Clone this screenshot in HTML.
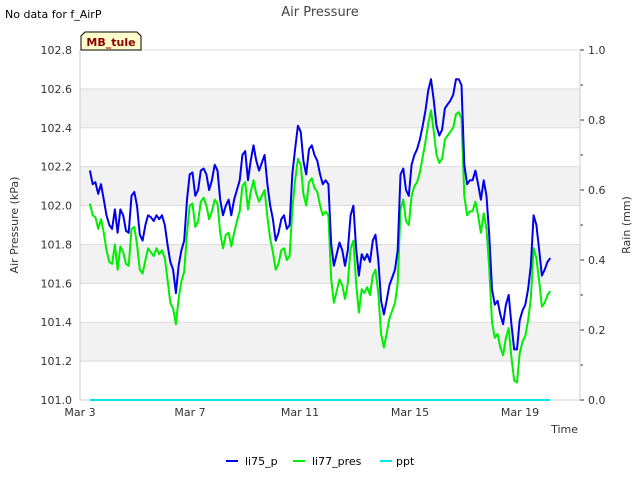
<!DOCTYPE html>
<html><head><meta charset="utf-8"><style>
body{margin:0;background:#fff;}
svg text{font-family:"DejaVu Sans","Liberation Sans",sans-serif;}
</style></head><body>
<svg id="chart" width="640" height="480" xmlns="http://www.w3.org/2000/svg">
<text x="5" y="18" font-size="11" fill="#000">No data for f_AirP</text>
<text x="320" y="16" font-size="13" fill="#444" text-anchor="middle">Air Pressure</text>
<g id="grid"></g>
<g id="axes"></g>
<g id="series"></g>
<g>
<path d="M81,50 L81,36 L85,32 L137,32 L141,36 L141,50 Z" fill="#ffffcc" stroke="#000" stroke-width="1"/>
<text x="111" y="46" font-size="11" font-weight="bold" fill="#8b0000" text-anchor="middle">MB_tule</text>
</g>
<text transform="translate(18,225) rotate(-90)" font-size="11" fill="#333" text-anchor="middle">Air Pressure (kPa)</text>
<text transform="translate(630,225) rotate(-90)" font-size="11" fill="#333" text-anchor="middle">Rain (mm)</text>
<text x="578" y="433" font-size="11" fill="#333" text-anchor="end">Time</text>
<g>
<g><line x1="226" y1="461" x2="238" y2="461" stroke="#0000ee" stroke-width="2"/><text x="245" y="465" font-size="11">li75_p</text></g>
<g><line x1="293" y1="461" x2="305" y2="461" stroke="#00ee00" stroke-width="2"/><text x="312" y="465" font-size="11">li77_pres</text></g>
<g><line x1="380" y1="461" x2="392" y2="461" stroke="#00e5ee" stroke-width="2"/><text x="396" y="465" font-size="11">ppt</text></g>
</g>
</svg>
<script>
const yTicks=[101.0,101.2,101.4,101.6,101.8,102.0,102.2,102.4,102.6,102.8];
const y2Ticks=[0,0.2,0.4,0.6,0.8,1.0];
const xTickDays=[3,7,11,15,19];
const xTickLabels=["Mar 3","Mar 7","Mar 11","Mar 15","Mar 19"];
const startDay=3.36, endDay=20.1;
const li75=[102.18,102.11,102.12,102.06,102.11,102.03,101.95,101.90,101.88,101.98,101.86,101.98,101.95,101.87,101.86,102.05,102.07,102.00,101.85,101.82,101.90,101.95,101.94,101.92,101.95,101.93,101.95,101.90,101.80,101.71,101.67,101.55,101.69,101.77,101.82,102.03,102.16,102.17,102.05,102.08,102.18,102.19,102.16,102.08,102.13,102.21,102.18,102.03,101.95,102.00,102.03,101.95,102.03,102.08,102.13,102.26,102.28,102.13,102.23,102.31,102.23,102.18,102.22,102.26,102.11,102.00,101.93,101.82,101.86,101.93,101.95,101.88,101.90,102.16,102.29,102.41,102.38,102.23,102.16,102.29,102.31,102.26,102.23,102.16,102.11,102.13,102.11,101.80,101.69,101.75,101.81,101.77,101.69,101.77,101.95,102.00,101.78,101.64,101.75,101.72,101.75,101.71,101.82,101.85,101.72,101.51,101.44,101.51,101.59,101.63,101.67,101.77,102.16,102.19,102.08,102.05,102.21,102.26,102.29,102.34,102.41,102.49,102.59,102.65,102.54,102.41,102.36,102.39,102.50,102.52,102.54,102.57,102.65,102.65,102.62,102.21,102.11,102.13,102.13,102.18,102.11,102.03,102.13,102.05,101.85,101.57,101.49,101.51,101.44,101.39,101.49,101.54,101.39,101.26,101.26,101.41,101.46,101.49,101.57,101.69,101.95,101.90,101.77,101.64,101.67,101.71,101.73];
const li77=[102.01,101.95,101.94,101.88,101.93,101.86,101.77,101.71,101.70,101.80,101.67,101.79,101.76,101.70,101.69,101.88,101.89,101.80,101.67,101.65,101.72,101.78,101.76,101.74,101.78,101.75,101.77,101.73,101.62,101.50,101.47,101.39,101.52,101.61,101.66,101.86,102.00,102.01,101.89,101.92,102.02,102.04,102.00,101.93,101.97,102.03,102.01,101.86,101.78,101.85,101.86,101.79,101.86,101.92,101.97,102.10,102.12,101.98,102.07,102.13,102.06,102.02,102.05,102.08,101.94,101.83,101.76,101.67,101.70,101.77,101.78,101.72,101.74,101.98,102.13,102.24,102.21,102.06,102.00,102.12,102.14,102.09,102.07,102.00,101.95,101.97,101.95,101.62,101.50,101.56,101.62,101.59,101.52,101.60,101.78,101.82,101.60,101.45,101.57,101.55,101.58,101.54,101.64,101.67,101.55,101.34,101.27,101.34,101.42,101.46,101.50,101.60,101.98,102.03,101.92,101.90,102.05,102.10,102.12,102.17,102.25,102.33,102.42,102.49,102.38,102.26,102.22,102.24,102.34,102.36,102.38,102.40,102.47,102.48,102.45,102.05,101.95,101.97,101.97,102.02,101.95,101.86,101.96,101.88,101.68,101.40,101.32,101.34,101.27,101.23,101.32,101.37,101.22,101.10,101.09,101.24,101.30,101.33,101.41,101.52,101.78,101.73,101.61,101.48,101.50,101.54,101.56];
const ppt=[0,0];
const L=80,R=580,T=50,B=400;
const xs=d=>L+(d-3)*27.5;
const ys=v=>B-(v-101.0)/1.8*(B-T);
const y2s=v=>B-v*(B-T);
const NS="http://www.w3.org/2000/svg";
function mk(tag,attrs,parent){const e=document.createElementNS(NS,tag);for(const k in attrs)e.setAttribute(k,attrs[k]);parent.appendChild(e);return e;}
const grid=document.getElementById('grid'),axes=document.getElementById('axes'),series=document.getElementById('series');
for(let i=0;i<yTicks.length-1;i++){
  if(i%2===1){const r=mk('rect',{x:L,y:ys(yTicks[i+1]),width:R-L,height:ys(yTicks[i])-ys(yTicks[i+1]),fill:'#f2f2f2'},grid);
  
  }
}
yTicks.forEach(v=>{const l=mk('line',{x1:L,x2:R,y1:ys(v),y2:ys(v),stroke:'#dcdcdc','stroke-width':1},grid);


const t=mk('text',{x:L-8,y:ys(v)+4,'font-size':11,'text-anchor':'end',fill:'#333'},axes);t.textContent=v.toFixed(1);

});
y2Ticks.forEach(v=>{const t=mk('text',{x:R+8,y:y2s(v)+4,'font-size':11,fill:'#333'},axes);t.textContent=v.toFixed(1);


mk('line',{x1:R,x2:R+4,y1:y2s(v),y2:y2s(v),stroke:'#333'},axes);});
for(let v=0.1;v<1;v+=0.2){mk('line',{x1:R,x2:R+3,y1:y2s(v),y2:y2s(v),stroke:'#333'},axes);}
mk('line',{x1:L,x2:L,y1:T,y2:B,stroke:'#ccc'},axes);
mk('line',{x1:R,x2:R,y1:T,y2:B,stroke:'#ccc'},axes);
mk('line',{x1:L,x2:R,y1:B,y2:B,stroke:'#ccc'},axes);
xTickDays.forEach((d,i)=>{const t=mk('text',{x:xs(d),y:B+16,'font-size':11,'text-anchor':'middle',fill:'#333'},axes);t.textContent=xTickLabels[i];

});
function line(arr,color,name,scale){
  const n=arr.length,step=(endDay-startDay)/(n-1);
  const pts=arr.map((v,i)=>xs(startDay+i*step).toFixed(1)+','+scale(v).toFixed(1)).join(' ');
  const p=mk('polyline',{points:pts,fill:'none',stroke:color,'stroke-width':2,'stroke-linejoin':'round'},series);
  
  
}
line(ppt,'#00e5ee','ppt-line',y2s);
line(li77,'#00ee00','li77-pres-line',ys);
line(li75,'#0000ee','li75-p-line',ys);
</script>
</body></html>
